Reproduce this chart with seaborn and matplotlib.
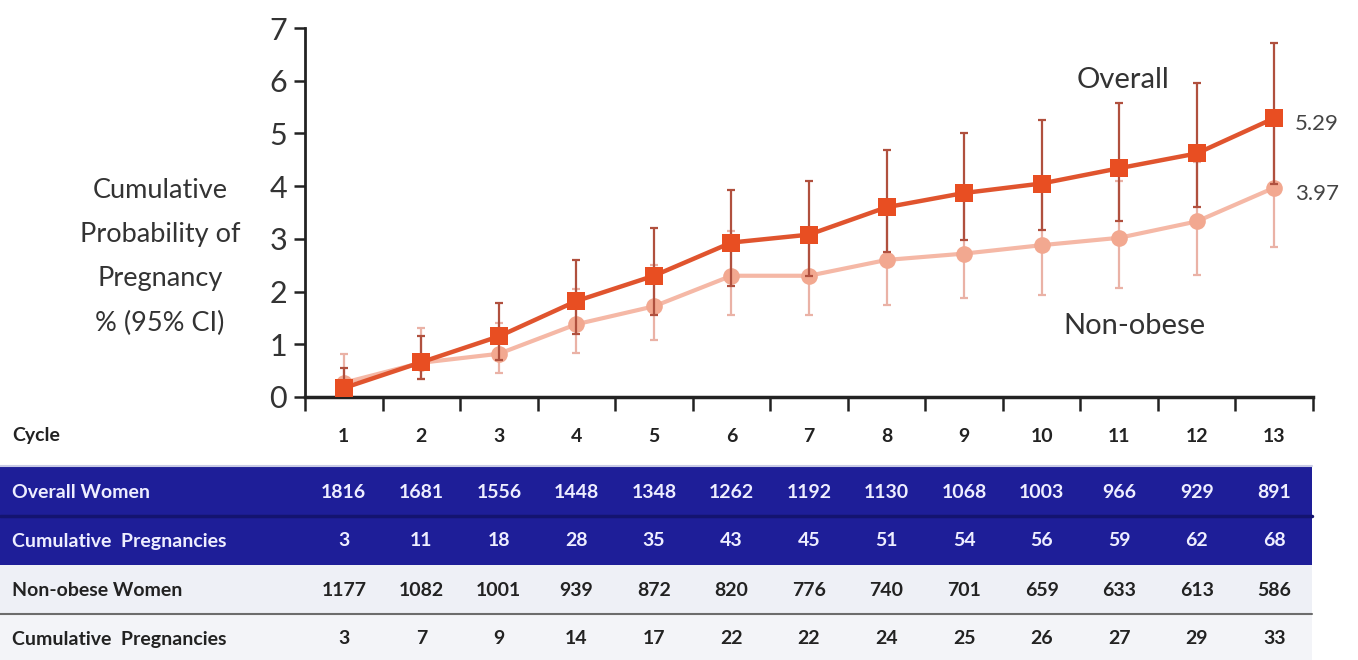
import numpy as np
import pandas as pd
import matplotlib
matplotlib.use("Agg")
import matplotlib.pyplot as plt
import matplotlib.transforms as mtransforms
import seaborn as sns

# ---------------- data ----------------
cycles = [1, 2, 3, 4, 5, 6, 7, 8, 9, 10, 11, 12, 13]
overall = [0.17, 0.66, 1.15, 1.82, 2.30, 2.93, 3.08, 3.60, 3.87, 4.05, 4.34, 4.62, 5.29]
overall_hi = [0.55, 1.15, 1.78, 2.60, 3.20, 3.92, 4.10, 4.69, 5.00, 5.26, 5.57, 5.95, 6.71]
overall_lo = [0.03, 0.35, 0.70, 1.20, 1.55, 2.10, 2.30, 2.75, 2.98, 3.17, 3.33, 3.61, 4.05]
nonobese = [0.27, 0.65, 0.82, 1.38, 1.72, 2.30, 2.30, 2.60, 2.72, 2.88, 3.02, 3.33, 3.97]
nonobese_hi = [0.82, 1.30, 1.40, 2.05, 2.50, 3.15, 3.20, 3.60, 3.75, 3.95, 4.10, 4.45, 5.25]
nonobese_lo = [0.07, 0.35, 0.45, 0.83, 1.08, 1.55, 1.56, 1.75, 1.87, 1.94, 2.06, 2.31, 2.85]

overall_women = [1816, 1681, 1556, 1448, 1348, 1262, 1192, 1130, 1068, 1003, 966, 929, 891]
overall_preg = [3, 11, 18, 28, 35, 43, 45, 51, 54, 56, 59, 62, 68]
nonobese_women = [1177, 1082, 1001, 939, 872, 820, 776, 740, 701, 659, 633, 613, 586]
nonobese_preg = [3, 7, 9, 14, 17, 22, 22, 24, 25, 26, 27, 29, 33]

row_labels = ["Overall Women", "Cumulative  Pregnancies", "Non-obese Women", "Cumulative  Pregnancies"]
y_label = "Cumulative\nProbability of\nPregnancy\n% (95% CI)"

# ---------------- style ----------------
sns.set_theme(style="white")
plt.rcParams["font.family"] = ["Lato", "DejaVu Sans"]

W, H = 1358, 660
fig = plt.figure(figsize=(W / 100, H / 100), dpi=100)
fig.patch.set_facecolor("white")

ax_left, ax_right, ax_bottom, ax_top = 305, 1313, 397, 28
ax = fig.add_axes([ax_left / W, 1 - ax_bottom / H, (ax_right - ax_left) / W, (ax_bottom - ax_top) / H])
ax.set_facecolor("white")

c_over = "#e84e22"
c_over_line = "#e0542e"
c_over_err = "#b0503e"
c_non = "#f2a890"
c_non_line = "#f5b8a6"
c_non_err = "#eab2a6"

df_o = pd.DataFrame({"cycle": cycles, "val": overall})
df_n = pd.DataFrame({"cycle": cycles, "val": nonobese})
x = np.array(cycles)

# non-obese
ax.errorbar(x, nonobese, yerr=[np.array(nonobese) - np.array(nonobese_lo), np.array(nonobese_hi) - np.array(nonobese)],
            fmt="none", ecolor=c_non_err, elinewidth=1.6, capsize=3, capthick=1.6, zorder=2)
sns.lineplot(data=df_n, x="cycle", y="val", ax=ax, color=c_non_line, lw=3, marker="o",
             markersize=12, markerfacecolor=c_non, markeredgewidth=0, zorder=3)
# overall
ax.errorbar(x, overall, yerr=[np.array(overall) - np.array(overall_lo), np.array(overall_hi) - np.array(overall)],
            fmt="none", ecolor=c_over_err, elinewidth=1.6, capsize=3, capthick=1.6, zorder=4)
sns.lineplot(data=df_o, x="cycle", y="val", ax=ax, color=c_over_line, lw=3.2, marker="s",
             markersize=12.5, markerfacecolor=c_over, markeredgewidth=0, zorder=5)

ax.set_xlim(0.5, 13.5)
ax.set_ylim(0, 7)
ax.set_xticks(np.arange(0.5, 14, 1))
ax.set_xticklabels([])
ax.set_yticks(range(0, 8))
ax.tick_params(axis="y", labelsize=22, length=8, width=1.8, color="#222222", labelcolor="#333333", pad=5, direction="out", left=True)
ax.tick_params(axis="x", length=10, width=1.8, color="#222222", direction="out", bottom=True)
ax.set_xlabel("")
ax.set_ylabel("")
for s in ["top", "right"]:
    ax.spines[s].set_visible(False)
ax.spines["left"].set_linewidth(2)
ax.spines["left"].set_color("#222222")
ax.spines["bottom"].set_linewidth(2.5)
ax.spines["bottom"].set_color("#222222")

ax.text(13.27, overall[-1] - 0.12, "5.29", fontsize=16, color="#444444", va="center", ha="left", clip_on=False)
ax.text(13.27, nonobese[-1] - 0.12, "3.97", fontsize=16, color="#444444", va="center", ha="left", clip_on=False)
ax.text(11.05, 6.02, "Overall", fontsize=21, color="#333333", ha="center", va="center")
ax.text(11.2, 1.35, "Non-obese", fontsize=21, color="#333333", ha="center", va="center")

fig.text(160 / W, 1 - 257 / H, y_label, fontsize=19.5, color="#333333", ha="center", va="center",
         multialignment="center", linespacing=1.95)

# ---------------- table ----------------
tb = fig.add_axes([0, 0, 1, 250 / H])
ppu = (ax_right - ax_left) / 13.0
tb.set_xlim(0.5 - ax_left / ppu, 13.5 + (W - ax_right) / ppu)
tb.set_ylim(660, 410)
tb.axis("off")

band_xmax = 1312 / W
blue = "#1e1e98"
tb.axhspan(467, 565, xmin=0, xmax=band_xmax, color=blue, lw=0, zorder=1)
tb.axhline(466, xmin=0, xmax=band_xmax, color="#c9cbe6", lw=1.5, zorder=2)
tb.axhline(516, xmin=0, xmax=band_xmax, color="#141470", lw=2.5, zorder=2)
tb.axhspan(565, 613, xmin=0, xmax=band_xmax, color="#eef0f6", lw=0, zorder=1)
tb.axhline(614, xmin=0, xmax=band_xmax, color="#6c6c6c", lw=1.5, zorder=2)
tb.axhspan(615, 660, xmin=0, xmax=band_xmax, color="#f3f4f8", lw=0, zorder=1)

lab_tr = mtransforms.blended_transform_factory(tb.transAxes, tb.transData)
lab_x = 12 / W
tfs = 14
tb.text(lab_x, 436, "Cycle", transform=lab_tr, fontsize=tfs, fontweight="bold", color="#222222", va="center", ha="left")
row_y = [492, 541, 590, 639]
row_col = ["#eeeeff", "#eeeeff", "#222222", "#222222"]
row_vals = [overall_women, overall_preg, nonobese_women, nonobese_preg]
for lab, yy, col, vals in zip(row_labels, row_y, row_col, row_vals):
    tb.text(lab_x, yy, lab, transform=lab_tr, fontsize=tfs, fontweight="bold", color=col, va="center", ha="left", zorder=3)
    for cx, v in zip(cycles, vals):
        tb.text(cx, yy, str(v), fontsize=tfs, fontweight="bold", color=col, va="center", ha="center", zorder=3)
for cx in cycles:
    tb.text(cx, 436, str(cx), fontsize=tfs, fontweight="bold", color="#222222", va="center", ha="center")

fig.savefig("out.png", dpi=100, facecolor="white")
